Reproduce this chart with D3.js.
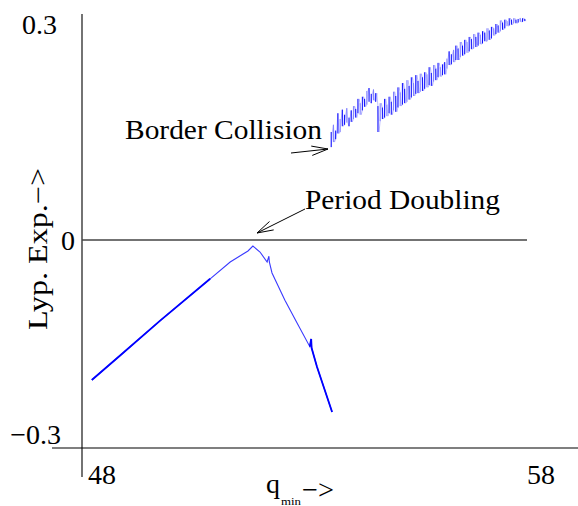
<!DOCTYPE html>
<meta charset="utf-8">
<html>
<head>
  <title>Lyapunov exponent</title>
  <style type="text/css">
    body{margin:0; background:#fff;}
    text{font-family:"Liberation Serif", "DejaVu Serif", serif; fill:#000;}
  </style>
</head>
<body>
  <script src="https://cdn.jsdelivr.net/npm/d3@7"></script>
  <script>
    // ticks
    var xTicks = [48, 58],
        yTicks = [-0.3, 0, 0.3],
        yTickLabels = ['\u22120.3', '0', '0.3'];

    // lower branch (stable, before border collision)
    var lowQ = [48.22, 48.85, 49.75, 50.88, 51.33, 51.62, 51.73, 51.84, 52.00, 52.16, 52.20, 52.21,
                52.27, 52.56, 52.83, 53.12, 53.15, 53.16, 53.28, 53.62];
    var lowL = [-0.2165, -0.179, -0.125, -0.060, -0.034, -0.0216, -0.017, -0.0093, -0.0186, -0.034, -0.025, -0.034,
                -0.051, -0.093, -0.128, -0.165, -0.153, -0.167, -0.196, -0.266];

    // upper branch (chaotic): spread of values, read every 0.05 from q = 53.60
    var highStart = 53.60, highStep = 0.05;
    var highLo = [0.129, 0.136, 0.140, 0.148, 0.150, 0.158, 0.160, 0.163, 0.158, 0.164,
                  0.168, 0.170, 0.176, 0.174, 0.180, 0.185, 0.188, 0.192, 0.190, 0.194,
                  0.192, 0.150, 0.165, 0.168, 0.170, 0.172, 0.176, 0.174, 0.180, 0.178,
                  0.184, 0.186, 0.188, 0.190, 0.192, 0.195, 0.198, 0.200, 0.203, 0.204,
                  0.206, 0.207, 0.210, 0.212, 0.215, 0.214, 0.220, 0.222, 0.226, 0.227,
                  0.229, 0.230, 0.238, 0.243, 0.244, 0.247, 0.250, 0.250, 0.254, 0.256,
                  0.258, 0.260, 0.262, 0.265, 0.266, 0.268, 0.270, 0.272, 0.273, 0.276,
                  0.276, 0.278, 0.280, 0.284, 0.286, 0.288, 0.290, 0.292, 0.294, 0.297,
                  0.298, 0.299, 0.301, 0.301, 0.302, 0.303, 0.303, 0.304];
    var highHi = [0.150, 0.160, 0.152, 0.176, 0.168, 0.181, 0.174, 0.183, 0.170, 0.180,
                  0.186, 0.182, 0.196, 0.190, 0.199, 0.196, 0.207, 0.211, 0.203, 0.209,
                  0.204, 0.186, 0.190, 0.184, 0.196, 0.188, 0.199, 0.192, 0.206, 0.200,
                  0.212, 0.205, 0.218, 0.210, 0.222, 0.214, 0.226, 0.218, 0.229, 0.221,
                  0.231, 0.226, 0.233, 0.230, 0.240, 0.232, 0.243, 0.238, 0.246, 0.240,
                  0.244, 0.247, 0.252, 0.262, 0.258, 0.264, 0.270, 0.266, 0.275, 0.270,
                  0.278, 0.275, 0.282, 0.279, 0.286, 0.282, 0.288, 0.285, 0.290, 0.288,
                  0.294, 0.291, 0.296, 0.294, 0.300, 0.298, 0.305, 0.302, 0.306, 0.304,
                  0.308, 0.306, 0.308, 0.306, 0.307, 0.308, 0.308, 0.307];

    var width = 578,
        height = 506;

    var svg = d3.select('body')
        .append('svg')
        .attr('width', width)
        .attr('height', height);

    var x = d3.scaleLinear().domain([48, 58]).range([82, 527]);
    var y = d3.scaleLinear().domain([-0.3, 0, 0.3]).range([434, 240, 24]);

    // frame lines
    svg.append('line')
      .attr('x1', x(48)).attr('x2', x(48))
      .attr('y1', 14).attr('y2', 477)
      .style('stroke', '#000').style('stroke-width', 1.1);
    svg.append('line')
      .attr('x1', 52).attr('x2', width)
      .attr('y1', 448).attr('y2', 448)
      .style('stroke', '#000').style('stroke-width', 1.1);
    svg.append('line')
      .attr('x1', x(48)).attr('x2', x(58))
      .attr('y1', y(0)).attr('y2', y(0))
      .style('stroke', '#444').style('stroke-width', 1.4);

    // tick labels
    var yLabelEnd = [61, 75, 57];
    svg.selectAll('.ylab')
      .data(yTicks)
      .enter()
      .append('text')
      .attr('class', 'ylab')
      .attr('x', function(d, i){return yLabelEnd[i]})
      .attr('y', function(d){return y(d) + 9.5})
      .attr('text-anchor', 'end')
      .style('font-size', '28px')
      .text(function(d, i){return yTickLabels[i]});

    svg.selectAll('.xlab')
      .data(xTicks)
      .enter()
      .append('text')
      .attr('class', 'xlab')
      .attr('x', function(d, i){return x(d) + (i == 0 ? 6 : 0)})
      .attr('y', 484)
      .style('font-size', '28px')
      .text(function(d){return d});

    // lower series
    var line = d3.line()
      .x(function(d){return x(d[0])})
      .y(function(d){return y(d[1])});

    var low = lowQ.map(function(q, i){return [q, lowL[i]]});

    svg.append('path')
      .attr('d', line(low))
      .style('fill', 'none')
      .style('stroke', '#3a3aff')
      .style('stroke-width', 1.1);
    // heavier parts of the lower branch
    svg.append('path')
      .attr('d', line(low.filter(function(d){return d[0] < 50.9})))
      .style('fill', 'none')
      .style('stroke', '#0000ff')
      .style('stroke-width', 1.8);
    svg.append('path')
      .attr('d', line(low.filter(function(d){return d[0] > 53.1})))
      .style('fill', 'none')
      .style('stroke', '#0000ff')
      .style('stroke-width', 1.8);

    // upper series: faint zigzag plus vertical strokes
    var high = highLo.map(function(lo, i){return {q: highStart + i*highStep, lo: lo, hi: highHi[i]}});

    var zig = [];
    high.forEach(function(d, i){
      zig.push([d.q, i % 2 ? d.hi : d.lo]);
      zig.push([d.q + highStep/2, i % 2 ? d.lo : d.hi]);
    });
    svg.append('path')
      .attr('d', line(zig))
      .style('fill', 'none')
      .style('stroke', '#6f6fff')
      .style('stroke-width', 0.6)
      .style('opacity', 0.7);

    svg.selectAll('.hbar')
      .data(high)
      .enter()
      .append('line')
      .attr('class', 'hbar')
      .attr('x1', function(d){return x(d.q)})
      .attr('x2', function(d){return x(d.q)})
      .attr('y1', function(d){return y(d.lo)})
      .attr('y2', function(d){return y(d.hi)})
      .style('stroke', function(d, i){return i % 3 == 1 ? '#8080ff' : '#0a0aff'})
      .style('stroke-width', 1);

    // annotations
    function arrow(x1, y1, x2, y2){
      var a = Math.atan2(y1 - y2, x1 - x2), len = 17, spread = 0.28;
      var p = d3.path();
      p.moveTo(x1, y1); p.lineTo(x2, y2);
      p.moveTo(x2 + len*Math.cos(a - spread), y2 + len*Math.sin(a - spread));
      p.lineTo(x2, y2);
      p.lineTo(x2 + len*Math.cos(a + spread), y2 + len*Math.sin(a + spread));
      svg.append('path')
        .attr('d', p.toString())
        .style('fill', 'none')
        .style('stroke', '#000')
        .style('stroke-width', 1);
    }

    svg.append('text')
      .attr('x', 125).attr('y', 139)
      .attr('textLength', 197).attr('lengthAdjust', 'spacingAndGlyphs')
      .style('font-size', '27px')
      .text('Border Collision');
    arrow(291, 153, 328, 149);

    svg.append('text')
      .attr('x', 305).attr('y', 209)
      .attr('textLength', 195).attr('lengthAdjust', 'spacingAndGlyphs')
      .style('font-size', '27px')
      .text('Period Doubling');
    arrow(305, 209, 257, 233);

    // axis titles
    svg.append('text')
      .attr('transform', 'translate(47,249) rotate(-90)')
      .attr('text-anchor', 'middle')
      .attr('textLength', 162).attr('lengthAdjust', 'spacingAndGlyphs')
      .style('font-size', '27px')
      .text('Lyp. Exp.\u2212>');

    svg.append('text')
      .attr('x', 266).attr('y', 493)
      .style('font-size', '28px')
      .text('q');
    svg.append('text')
      .attr('x', 281).attr('y', 505)
      .attr('textLength', 20).attr('lengthAdjust', 'spacingAndGlyphs')
      .style('font-size', '11px')
      .text('min');
    svg.append('text')
      .attr('x', 302).attr('y', 499)
      .attr('textLength', 32).attr('lengthAdjust', 'spacingAndGlyphs')
      .style('font-size', '28px')
      .text('\u2212>');
  </script>
</body>
</html>
